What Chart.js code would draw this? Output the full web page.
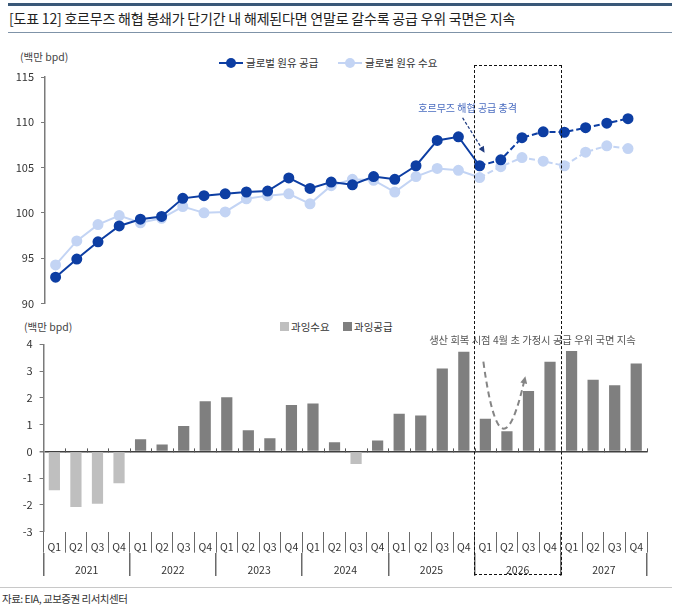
<!DOCTYPE html>
<html>
<head>
<meta charset="utf-8">
<script src="https://cdn.jsdelivr.net/npm/chart.js@4.4.1/dist/chart.umd.min.js"></script>
<style>
  body { margin: 0; background: #fff; font-family: "Noto Sans CJK KR", sans-serif; color: #333; }
  #page { position: relative; width: 687px; height: 608px; overflow: hidden; }
  .abs { position: absolute; white-space: nowrap; }
  #topbar { left: 8px; top: 3px; width: 664px; height: 3px; background: #3a5878; }
  #title { left: 9px; top: 8px; font-size: 14px; line-height: 20px; color: #222; letter-spacing: -0.2px; }
  #titleline { left: 8px; top: 32px; width: 664px; height: 1px; background: #7f93a8; }
  .unit { font-size: 10.5px; color: #444; }
  .leg { font-size: 10.5px; color: #333; display: flex; align-items: center; }
  .mk { position: relative; width: 24px; height: 2px; margin-right: 3px; }
  .mk i { position: absolute; left: 7px; top: -4px; width: 10px; height: 10px; border-radius: 50%; }
  .sq { width: 9px; height: 9px; margin-right: 2px; }
  canvas { position: absolute; left: 0; }
  #box { top: 65px; height: 510px; border: 1.5px dashed #111; box-sizing: border-box; }
  #srcline { left: 0; top: 587px; width: 672px; height: 1px; background: #c8c8c8; }
  #src { left: 2px; top: 591px; font-size: 10.5px; color: #333; letter-spacing: -0.5px; }
</style>
</head>
<body>
<div id="page">
  <div id="topbar" class="abs"></div>
  <div id="title" class="abs">[도표 12] 호르무즈 해협 봉쇄가 단기간 내 해제된다면 연말로 갈수록 공급 우위 국면은 지속</div>
  <div id="titleline" class="abs"></div>

  <div class="abs unit" style="left:20px;top:49px">(백만 bpd)</div>
  <div class="abs leg" style="left:219px;top:55px"><span class="mk" style="background:#0d3ea3"><i style="background:#0d3ea3"></i></span>글로벌 원유 공급</div>
  <div class="abs leg" style="left:338px;top:55px"><span class="mk" style="background:#c3d4f4"><i style="background:#c3d4f4"></i></span>글로벌 원유 수요</div>

  <div class="abs unit" style="left:24px;top:319px">(백만 bpd)</div>
  <div class="abs leg" style="left:280px;top:319px"><span class="sq" style="background:#bfbfbf"></span>과잉수요</div>
  <div class="abs leg" style="left:343px;top:319px"><span class="sq" style="background:#7f7f7f"></span>과잉공급</div>
  <canvas id="barChart" width="687" height="272" style="top:310px"></canvas>
  <canvas id="lineChart" width="687" height="277" style="top:40px"></canvas>

  <div id="box" class="abs"></div>
  <div id="srcline" class="abs"></div>
  <div id="src" class="abs">자료: EIA, 교보증권 리서치센터</div>
</div>

<script>
const years = ["2021", "2022", "2023", "2024", "2025", "2026", "2027"];
const quarters = years.flatMap(() => ["Q1", "Q2", "Q3", "Q4"]);

// 글로벌 원유 공급 / 수요 (백만 bpd)
const supply = [92.9, 94.9, 96.8, 98.55, 99.3, 99.6, 101.6, 101.9, 102.1, 102.3, 102.4, 103.85,
  102.7, 103.4, 103.1, 104.0, 103.7, 105.2, 108.0, 108.4, 105.2, 105.85, 108.3, 108.95,
  108.9, 109.4, 109.9, 110.4];
const demand = [94.25, 96.9, 98.7, 99.7, 98.9, 99.4, 100.7, 100.0, 100.1, 101.55, 101.9, 102.1,
  101.0, 103.0, 103.7, 103.6, 102.3, 104.0, 104.9, 104.7, 103.9, 105.1, 106.1, 105.7,
  105.2, 106.7, 107.4, 107.1];

// 과잉수요 (negative) / 과잉공급 (positive)
const overDemand = [-1.45, -2.08, -1.96, -1.19, null, null, null, null, null, null, null, null,
  null, null, -0.47, null, null, null, null, null, null, null, null, null,
  null, null, null, null];
const overSupply = [null, null, null, null, 0.45, 0.26, 0.95, 1.87, 2.02, 0.79, 0.49, 1.73,
  1.79, 0.34, null, 0.41, 1.41, 1.34, 3.1, 3.72, 1.22, 0.75, 2.26, 3.35,
  3.75, 2.68, 2.47, 3.28];

const forecastStart = 20;   // 2026 Q1 onward is dashed
const boxFrom = 20, boxTo = 23;

const FONT = '"Noto Sans CJK KR", sans-serif';
const AXIS = "#7a7a7a";

function arrowHead(ctx, fromX, fromY, toX, toY, size) {
  const a = Math.atan2(toY - fromY, toX - fromX);
  ctx.beginPath();
  ctx.moveTo(toX, toY);
  ctx.lineTo(toX - size * Math.cos(a - 0.45), toY - size * Math.sin(a - 0.45));
  ctx.lineTo(toX - size * Math.cos(a + 0.45), toY - size * Math.sin(a + 0.45));
  ctx.closePath();
  ctx.fill();
}

const topNotes = {
  id: "topNotes",
  afterDatasetsDraw(chart) {
    const { ctx, scales: { x, y } } = chart;
    const px = x.getPixelForValue(forecastStart);
    const py = y.getPixelForValue(supply[forecastStart]);
    ctx.save();
    ctx.font = "10px " + FONT;
    ctx.fillStyle = "#4a6cc0";
    ctx.textAlign = "center";
    ctx.textBaseline = "middle";
    ctx.fillText("호르무즈 해협 공급 충격", px - 12, py - 58);

    ctx.strokeStyle = "#203c80";
    ctx.fillStyle = "#203c80";
    ctx.lineWidth = 1.3;
    ctx.setLineDash([3, 2]);
    ctx.beginPath();
    ctx.moveTo(px - 17, py - 48);
    ctx.lineTo(px + 3, py - 16);
    ctx.stroke();
    ctx.setLineDash([]);
    arrowHead(ctx, px - 17, py - 48, px + 5, py - 13, 7);
    ctx.restore();
  }
};

const barNotes = {
  id: "barNotes",
  afterDatasetsDraw(chart) {
    const { ctx, scales: { x, y } } = chart;
    const step = x.getPixelForValue(1) - x.getPixelForValue(0);
    const y0 = y.getPixelForValue(0);
    ctx.save();
    // small ticks on the zero line
    ctx.strokeStyle = "#555";
    ctx.lineWidth = 1;
    for (let i = 1; i <= quarters.length; i++) {
      const bx = Math.round(x.getPixelForValue(i) - step / 2) + 0.5;
      ctx.beginPath();
      ctx.moveTo(bx, y0 - 3);
      ctx.lineTo(bx, y0 + 1);
      ctx.stroke();
    }

    const ax = x.getPixelForValue(forecastStart);
    ctx.font = "10.3px " + FONT;
    ctx.fillStyle = "#555";
    ctx.textAlign = "center";
    ctx.textBaseline = "middle";
    ctx.fillText("생산 회복 시점 4월 초 가정시 공급 우위 국면 지속", ax + 47, y.getPixelForValue(4.15));

    const p0 = [ax - 2, y.getPixelForValue(3.35)];
    const c = [ax + 15, y.getPixelForValue(-1.28)];
    const p2 = [ax + 40, y.getPixelForValue(2.81)];
    ctx.strokeStyle = "#858585";
    ctx.fillStyle = "#858585";
    ctx.lineWidth = 2;
    ctx.setLineDash([6, 4]);
    ctx.beginPath();
    ctx.moveTo(p0[0], p0[1]);
    ctx.quadraticCurveTo(c[0], c[1], p2[0] - 1, p2[1] + 4);
    ctx.stroke();
    ctx.setLineDash([]);
    arrowHead(ctx, c[0], c[1], p2[0], p2[1], 8);
    ctx.restore();

    // dashed 2026 box follows the bar chart's category boundaries
    const left = x.getPixelForValue(boxFrom) - step / 2;
    const right = x.getPixelForValue(boxTo) + step / 2;
    const box = document.getElementById("box");
    box.style.left = (left - 0.75) + "px";
    box.style.width = (right - left + 1.5) + "px";
  }
};

new Chart(document.getElementById("lineChart"), {
  type: "line",
  data: {
    labels: quarters,
    datasets: [
      {
        label: "글로벌 원유 공급",
        data: supply,
        borderColor: "#0d3ea3",
        backgroundColor: "#0d3ea3",
        borderWidth: 2,
        pointRadius: 4.5,
        pointHoverRadius: 4.5,
        segment: { borderDash: c => c.p0DataIndex >= forecastStart ? [6, 3] : undefined }
      },
      {
        label: "글로벌 원유 수요",
        data: demand,
        borderColor: "#c3d4f4",
        backgroundColor: "#c3d4f4",
        borderWidth: 2,
        pointRadius: 4.5,
        pointHoverRadius: 4.5,
        segment: { borderDash: c => c.p0DataIndex >= forecastStart ? [6, 3] : undefined }
      }
    ]
  },
  options: {
    responsive: false,
    animation: false,
    layout: { padding: { left: 0, right: 48.4, top: 37, bottom: 6 } },
    plugins: { legend: { display: false }, tooltip: { enabled: false } },
    scales: {
      x: { type: "category", offset: true, display: false },
      y: {
        min: 90, max: 115,
        afterFit: s => { s.width = 45; },
        ticks: { stepSize: 5, padding: 7, color: "#333", font: { family: FONT, size: 11 } },
        grid: { drawOnChartArea: false, tickLength: 4, color: AXIS },
        border: { color: AXIS, width: 1.5 }
      }
    }
  },
  plugins: [topNotes]
});

new Chart(document.getElementById("barChart"), {
  type: "bar",
  data: {
    labels: quarters,
    datasets: [
      { label: "과잉수요", data: overDemand, backgroundColor: "#bfbfbf", categoryPercentage: 1, barPercentage: 0.52 },
      { label: "과잉공급", data: overSupply, backgroundColor: "#7f7f7f", categoryPercentage: 1, barPercentage: 0.52 }
    ]
  },
  options: {
    responsive: false,
    animation: false,
    layout: { padding: { left: 0, right: 40, top: 34.3, bottom: 5.3 } },
    plugins: { legend: { display: false }, tooltip: { enabled: false } },
    scales: {
      x: {
        type: "category",
        stacked: true,
        offset: true,
        afterFit: s => { s.height = 21; },
        ticks: { padding: -12.3, color: "#333", font: { family: FONT, size: 10.5 }, maxRotation: 0, autoSkip: false },
        grid: { offset: true, drawOnChartArea: false, tickLength: 21, color: "#6a6a6a" },
        border: { display: false }
      },
      year: {
        type: "category",
        position: "bottom",
        labels: years,
        offset: true,
        afterFit: s => { s.height = 24; },
        ticks: { padding: -12.3, color: "#333", font: { family: FONT, size: 10.5 }, maxRotation: 0, autoSkip: false },
        grid: { offset: true, drawOnChartArea: false, tickLength: 23.3, color: "#6a6a6a", lineWidth: 1.5 },
        border: { display: false }
      },
      y: {
        stacked: true,
        min: -3, max: 4,
        afterFit: s => { s.width = 43.6; },
        ticks: { stepSize: 1, padding: 7, color: "#333", font: { family: FONT, size: 11 } },
        grid: {
          drawOnChartArea: true,
          tickLength: 4,
          tickColor: AXIS,
          color: c => c.tick && c.tick.value === 0 ? "#404040" : "rgba(0,0,0,0)",
          lineWidth: c => c.tick && c.tick.value === 0 ? 1.5 : 1
        },
        border: { color: AXIS, width: 1.5 }
      }
    }
  },
  plugins: [barNotes]
});
</script>
</body>
</html>
